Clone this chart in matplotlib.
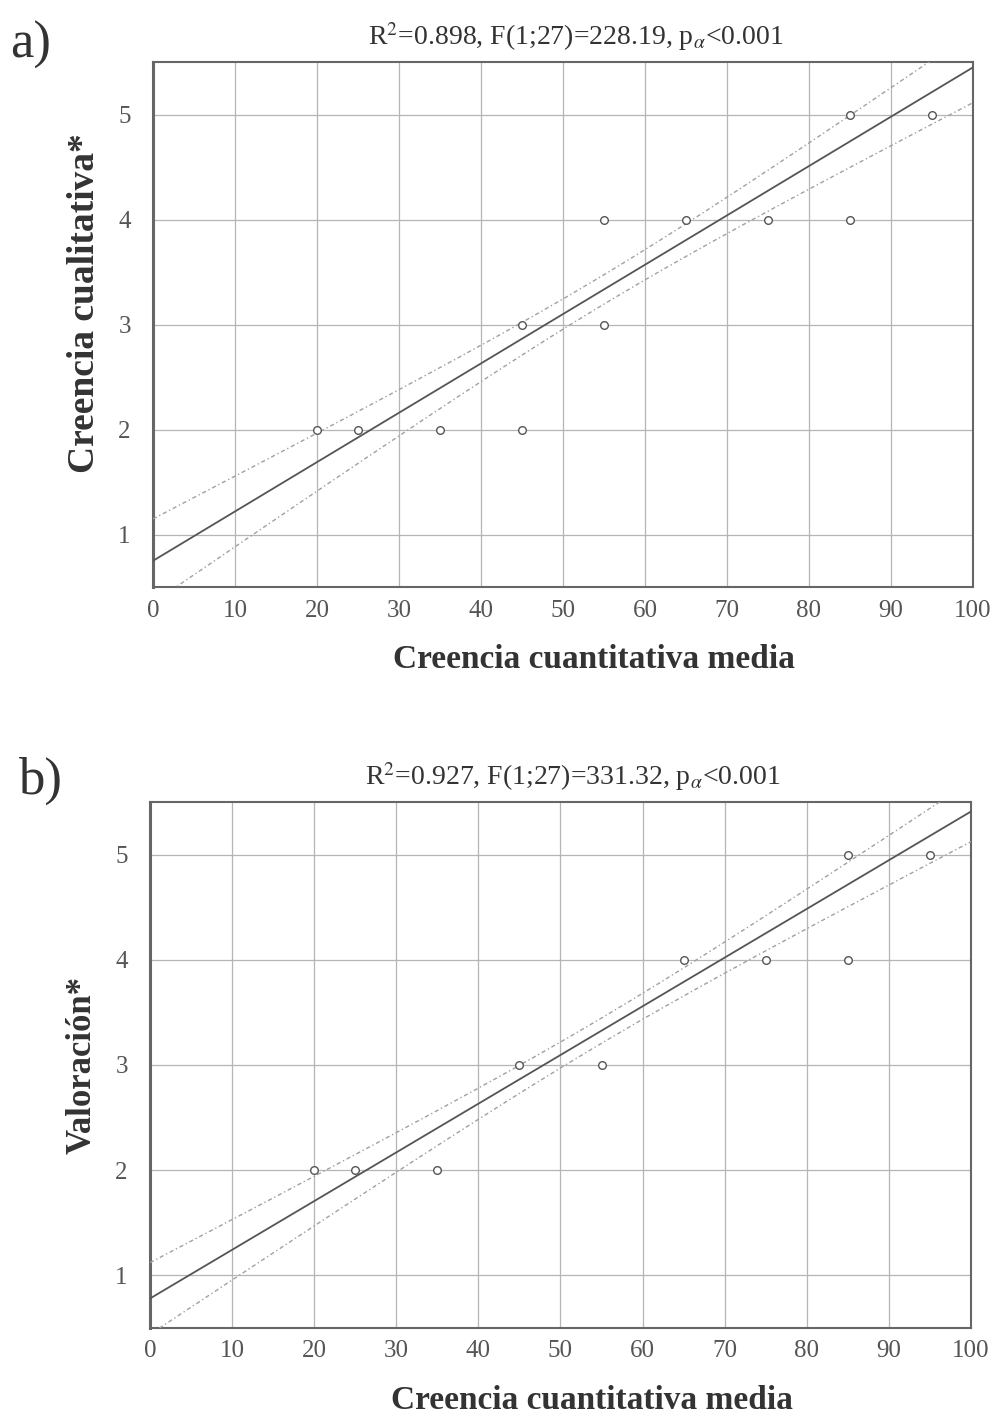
# Dos paneles de regresion lineal con banda de confianza
import numpy as np
import matplotlib
matplotlib.use('Agg')
import matplotlib.pyplot as plt

plt.rcParams['font.family'] = ['Liberation Serif', 'DejaVu Serif']
plt.rcParams['mathtext.fontset'] = 'stix'

# --- datos ---
xticks = [0, 10, 20, 30, 40, 50, 60, 70, 80, 90, 100]
yticks = [1, 2, 3, 4, 5]

# panel a)
a_x = [20, 25, 35, 45, 45, 55, 55, 65, 75, 85, 85, 95]
a_y = [2, 2, 2, 2, 3, 3, 4, 4, 4, 4, 5, 5]
a_intercept = 0.75
a_slope = 0.0470
a_ci_min = 0.14       # semiancho minimo de la banda
a_ci_spread = 0.0068  # crecimiento de la banda
a_ci_center = 55
a_title = r'R$^2$=0.898, F(1;27)=228.19, p$_\alpha$<0.001'
a_ylabel = 'Creencia cualitativa*'

# panel b)
b_x = [20, 25, 35, 45, 55, 65, 75, 85, 85, 95]
b_y = [2, 2, 2, 3, 3, 4, 4, 4, 5, 5]
b_intercept = 0.78
b_slope = 0.0463
b_ci_min = 0.12
b_ci_spread = 0.0058
b_ci_center = 55
b_title = r'R$^2$=0.927, F(1;27)=331.32, p$_\alpha$<0.001'
b_ylabel = 'Valoración*'

xlabel = 'Creencia cuantitativa media'


def panel(ax, xs, ys, icpt, slope, cmin, cspread, ccenter, title, ylabel,
          ylsize, ylpos, tag, tagpos):
    xx = np.linspace(0, 100, 300)
    fit = icpt + slope * xx
    half = np.sqrt(cmin ** 2 + (cspread * (xx - ccenter)) ** 2)

    ax.plot(xx, fit, color='#555555', lw=1.3, zorder=3)
    ax.plot(xx, fit + half, color='#a0a0a0', lw=1.0, ls=(0, (3, 2, 1, 2)),
            zorder=3)
    ax.plot(xx, fit - half, color='#a0a0a0', lw=1.0, ls=(0, (3, 2, 1, 2)),
            zorder=3)
    ax.plot(xs, ys, 'o', ms=5.5, mfc='white', mec='#555555', mew=1.0,
            zorder=4)

    ax.set_xlim(0, 100)
    ax.set_ylim(0.5, 5.5)
    ax.set_xticks(xticks)
    ax.set_yticks(yticks)
    ax.grid(True, color='#b5b5b5', lw=0.9)
    ax.set_axisbelow(True)
    ax.tick_params(length=0, labelsize=18, labelcolor='#555555')
    ax.tick_params(axis='y', pad=16)
    ax.tick_params(axis='x', pad=9)
    for s in ax.spines.values():
        s.set_color('#666666')
        s.set_linewidth(1.5)
    ax.spines['left'].set_linewidth(2.2)

    ax.set_title(title, fontsize=20, color='#333333', pad=12, x=0.515)
    ax.set_xlabel(xlabel, fontsize=24, fontweight='bold', color='#333333')
    ax.xaxis.set_label_coords(0.538, -0.108)
    ax.set_ylabel(ylabel, fontsize=ylsize, fontweight='bold', color='#333333')
    ax.yaxis.set_label_coords(-0.062, ylpos)
    ax.figure.text(tagpos[0], tagpos[1], tag, fontsize=38, color='#333333',
                   ha='left', va='center')


fig = plt.figure(figsize=(9.96, 14.18), dpi=100)
ax1 = fig.add_axes([0.1536, 0.586, 0.8233, 0.3702])
ax2 = fig.add_axes([0.1506, 0.0635, 0.8243, 0.3709])

panel(ax1, a_x, a_y, a_intercept, a_slope, a_ci_min, a_ci_spread,
      a_ci_center, a_title, a_ylabel, 27, 0.54, 'a)', (0.010, 0.968))
panel(ax2, b_x, b_y, b_intercept, b_slope, b_ci_min, b_ci_spread,
      b_ci_center, b_title, b_ylabel, 25, 0.5, 'b)', (0.018, 0.449))

fig.savefig('out.png', dpi=100)
